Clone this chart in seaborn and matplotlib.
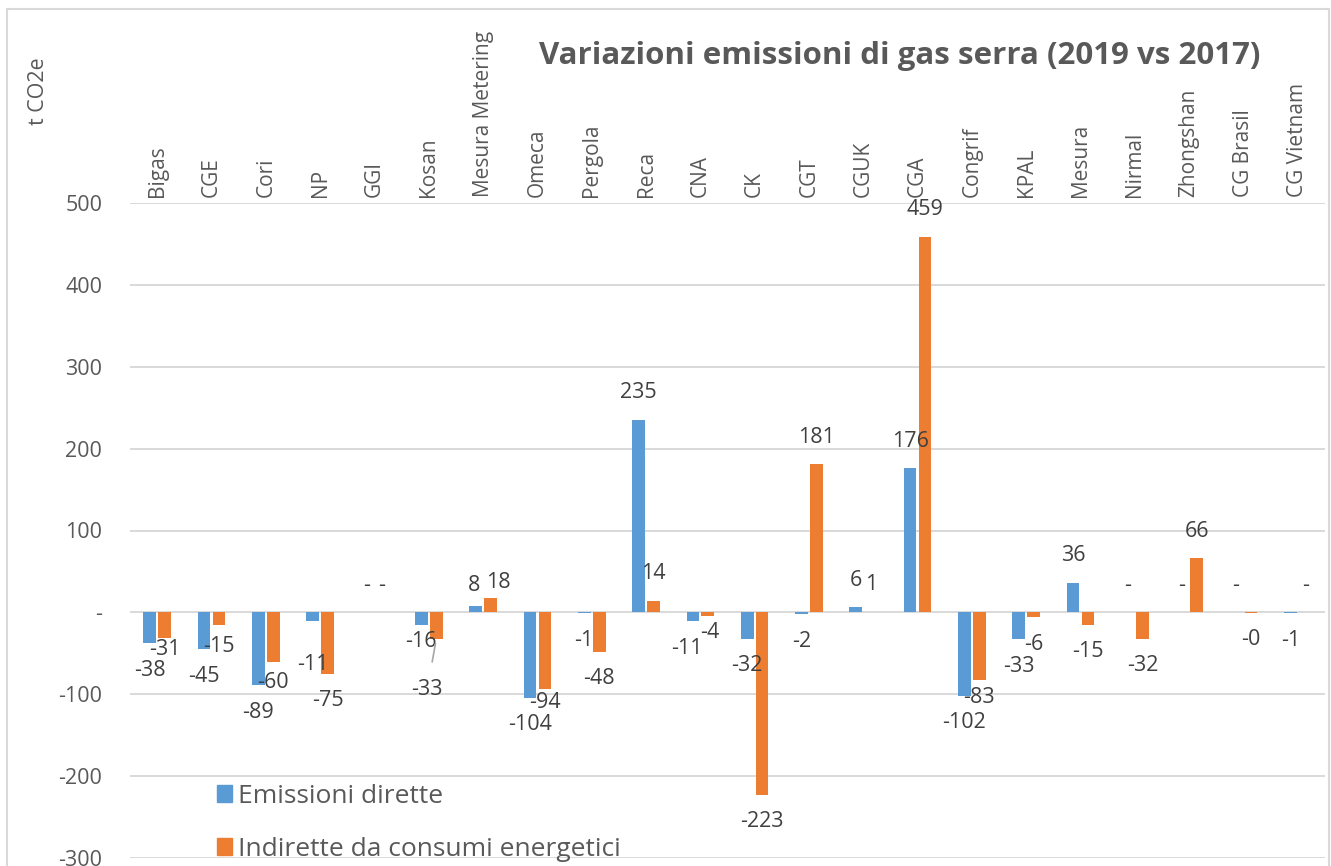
import matplotlib
matplotlib.use("Agg")
import matplotlib.pyplot as plt
import matplotlib.patches as mpatches
import pandas as pd
import seaborn as sns

# sites, in chart order
sites = [
    "Bigas", "CGE", "Cori", "NP", "GGI", "Kosan", "Mesura Metering", "Omeca",
    "Pergola", "Reca", "CNA", "CK", "CGT", "CGUK", "CGA", "Congrif", "KPAL",
    "Mesura", "Nirmal", "Zhongshan", "CG Brasil", "CG Vietnam",
]
# t CO2e change 2019 vs 2017
dirette = [-38, -45, -89, -11, 0, -16, 8, -104, -1, 235, -11, -32, -2, 6, 176,
           -102, -33, 36, 0, 0, 0, -1]
indirette = [-31, -15, -60, -75, 0, -33, 18, -94, -48, 14, -4, -223, 181, 1, 459,
             -83, -6, -15, -32, 66, -0.3, 0]

series_names = ["Emissioni dirette", "Indirette da consumi energetici"]
palette = {series_names[0]: "#5B9BD5", series_names[1]: "#ED7D31"}
title = "Variazioni emissioni di gas serra (2019 vs 2017)"
y_title = "t CO2e"

GREY = "#595959"
LABEL_GREY = "#404040"
GRID = "#D9D9D9"
PX = 0.72  # points per pixel at 100 dpi

# distance (px) from bar end to label centre; a few labels were nudged by hand
LABEL_GAP = 27
label_gap = {
    (series_names[1], "Bigas"): 12,
    (series_names[1], "CGE"): 22,
    (series_names[1], "Cori"): 21,
    (series_names[0], "NP"): 43,
    (series_names[0], "Kosan"): 16,
    (series_names[0], "Mesura Metering"): 20,
    (series_names[1], "Mesura Metering"): 15,
    (series_names[1], "Omeca"): 13,
    (series_names[1], "CNA"): 17,
    (series_names[1], "Congrif"): 17,
}
# sideways nudges (px)
label_dx = {
    (series_names[0], "Mesura Metering"): -2,
    (series_names[1], "Mesura Metering"): 8,
    (series_names[0], "CNA"): -6,
    (series_names[1], "CNA"): 2,
}
# labels dragged away from the bar, with a leader line (dx, dy in px)
leader_labels = {(series_names[1], "Kosan"): (-9, -50)}


def fmt(v):
    # accounting style: zero shows as a dash
    return "-" if v == 0 else f"{v:.0f}"


df = pd.DataFrame({
    "site": sites * 2,
    "serie": [series_names[0]] * len(sites) + [series_names[1]] * len(sites),
    "valore": dirette + indirette,
})

sns.set_style("white")
plt.rcParams["font.family"] = ["Open Sans", "DejaVu Sans"]

W, H = 1331, 866
fig = plt.figure(figsize=(W / 100, H / 100), dpi=100)
ax = fig.add_axes([130 / W, 8 / H, 1195 / W, 655 / H])

sns.barplot(
    data=df, x="site", y="valore", hue="serie", order=sites,
    hue_order=series_names, palette=palette, width=0.55, gap=0.15,
    linewidth=0, saturation=1, ax=ax,
)

ax.set_ylim(-300, 500)
ax.set_xlim(-0.5, len(sites) - 0.5)
ax.set_yticks(range(-300, 501, 100))
ax.set_yticklabels([fmt(t) for t in range(-300, 501, 100)])
ax.yaxis.grid(True, color=GRID, linewidth=1.4)
ax.set_axisbelow(True)
for s in ax.spines.values():
    s.set_visible(False)
ax.set_xlabel("")
ax.set_ylabel("")

ax.xaxis.tick_top()
ax.set_xticks(range(len(sites)))
ax.set_xticklabels(sites, rotation=90)
ax.tick_params(axis="x", length=0, pad=4, labelsize=15, labelcolor=GREY)
ax.tick_params(axis="y", length=0, pad=20, labelsize=15.5, labelcolor=GREY)

# data labels
for cont, name in zip(ax.containers, series_names):
    vals = dirette if name == series_names[0] else indirette
    for bar, site, v in zip(cont, sites, vals):
        x = bar.get_x() + bar.get_width() / 2
        key = (name, site)
        if key in leader_labels:
            dx, dy = leader_labels[key]
            ax.annotate(fmt(v), (x, v), xytext=(dx * PX, dy * PX),
                        textcoords="offset points", ha="center", va="center",
                        fontsize=15.5, color=LABEL_GREY,
                        arrowprops=dict(arrowstyle="-", color="#A6A6A6", lw=1.2,
                                        shrinkA=10, shrinkB=3))
            continue
        gap = label_gap.get(key, LABEL_GAP)
        dy = gap if v >= 0 else -gap
        dx = label_dx.get(key, 0)
        ax.annotate(fmt(v), (x, v), xytext=(dx * PX, dy * PX),
                    textcoords="offset points", ha="center", va="center",
                    fontsize=15.5, color=LABEL_GREY)

handles = [mpatches.Patch(color=palette[n], label=n) for n in series_names]
leg = ax.legend(handles=handles, loc="upper left",
                bbox_to_anchor=(217 / W, 1 - 784 / H), bbox_transform=fig.transFigure,
                frameon=False, fontsize=19, handlelength=0.58, handleheight=0.58,
                handletextpad=0.22, labelspacing=1.05, borderpad=0, borderaxespad=0)
for t in leg.get_texts():
    t.set_color(GREY)

fig.text(900 / W, 1 - 56 / H, title, ha="center", va="center", fontsize=22.5,
         fontweight="bold", color=GREY)
fig.text(38 / W, 1 - 91 / H, y_title, ha="center", va="center", rotation=90,
         fontsize=15.5, color=GREY)

# chart frame
fig.patches.append(mpatches.Rectangle((7 / W, -0.02), 1322 / W, 1.02 - 9 / H,
                                      transform=fig.transFigure, fill=False,
                                      edgecolor=GRID, linewidth=1.5))

fig.savefig("out.png", dpi=100)
